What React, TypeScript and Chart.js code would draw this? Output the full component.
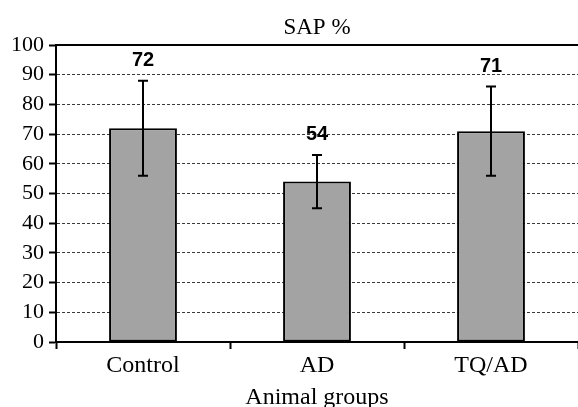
import React, { useEffect, useRef } from "react";
import { Chart, registerables } from "chart.js";

Chart.register(...registerables);

const categories = ["Control", "AD", "TQ/AD"];
const meanValues = [72, 54, 71];
const errorLow = [56, 45, 56];
const errorHigh = [88, 63, 86];
const valueLabels = ["72", "54", "71"];
const yTicks = [0, 10, 20, 30, 40, 50, 60, 70, 80, 90, 100];

const SERIF = "'Liberation Serif', 'Times New Roman', serif";
const SANS = "'Liberation Sans', Arial, sans-serif";

const errorBarPlugin = {
  id: "errorBars",
  afterDatasetsDraw(chart: any) {
    const { ctx, chartArea } = chart;
    const meta = chart.getDatasetMeta(0);
    const y = chart.scales.y;
    ctx.save();
    // top frame line
    ctx.strokeStyle = "#000";
    ctx.lineWidth = 2;
    ctx.beginPath();
    ctx.moveTo(chartArea.left - 1, chartArea.top);
    ctx.lineTo(chartArea.right, chartArea.top);
    ctx.stroke();

    meta.data.forEach((bar: any, i: number) => {
      const x = bar.x;
      const yl = y.getPixelForValue(errorLow[i]);
      const yh = y.getPixelForValue(errorHigh[i]);
      ctx.strokeStyle = "#000";
      ctx.lineWidth = 2;
      ctx.beginPath();
      ctx.moveTo(x, yl);
      ctx.lineTo(x, yh);
      ctx.moveTo(x - 5, yl);
      ctx.lineTo(x + 5, yl);
      ctx.moveTo(x - 5, yh);
      ctx.lineTo(x + 5, yh);
      ctx.stroke();

      ctx.fillStyle = "#000";
      ctx.font = `bold 20px ${SANS}`;
      ctx.textAlign = "center";
      ctx.textBaseline = "middle";
      ctx.fillText(valueLabels[i], x, yh - 20);
    });
    ctx.restore();
  },
};

export default function App() {
  const canvasRef = useRef<HTMLCanvasElement | null>(null);

  useEffect(() => {
    document.body.style.margin = "0";
    const canvas = canvasRef.current;
    if (!canvas) return;
    const chart = new Chart(canvas, {
      type: "bar",
      data: {
        labels: categories,
        datasets: [
          {
            data: meanValues,
            backgroundColor: "#a3a3a3",
            borderColor: "#000",
            borderWidth: 2,
            borderSkipped: false,
            categoryPercentage: 1,
            barPercentage: 0.39,
          },
        ],
      },
      options: {
        responsive: false,
        animation: false,
        layout: { padding: 0 },
        plugins: {
          legend: { display: false },
          tooltip: { enabled: false },
          title: {
            display: true,
            fullSize: false,
            text: "SAP %",
            color: "#000",
            font: { family: SERIF, size: 23, weight: "normal", lineHeight: 1.2 },
            padding: { top: 14, bottom: 3.4 },
          },
        },
        scales: {
          x: {
            grid: {
              display: true,
              offset: true,
              drawOnChartArea: false,
              drawTicks: true,
              tickLength: 7,
              tickColor: "#000",
              tickWidth: 2,
            },
            border: { display: true, color: "#000", width: 2 },
            ticks: {
              color: "#000",
              font: { family: SERIF, size: 24, lineHeight: 1.2 },
              padding: 2,
            },
            title: {
              display: true,
              text: "Animal groups",
              color: "#000",
              font: { family: SERIF, size: 24, lineHeight: 0.75 },
              padding: { top: 0, bottom: 0 },
            },
            afterFit(scale: any) {
              scale.height = 65;
            },
          },
          y: {
            min: 0,
            max: 100,
            afterBuildTicks(scale: any) {
              scale.ticks = yTicks.map((v) => ({ value: v }));
            },
            grid: {
              color: (ctx: any) =>
                ctx.tick && (ctx.tick.value === 0 || ctx.tick.value === 100)
                  ? "rgba(0,0,0,0)"
                  : "#3a3a3a",
              lineWidth: 1,
              tickLength: 7,
              tickColor: "#000",
              tickWidth: 2,
            },
            border: { display: true, color: "#000", width: 2, dash: [3, 2] },
            ticks: {
              color: "#000",
              font: { family: SERIF, size: 22, lineHeight: 1.2 },
              padding: 5,
            },
            afterFit(scale: any) {
              scale.width = 56;
            },
          },
        },
      },
      plugins: [errorBarPlugin],
    });
    return () => chart.destroy();
  }, []);

  return (
    <div style={{ width: 578, height: 407 }}>
      <canvas ref={canvasRef} width={578} height={407} />
    </div>
  );
}
